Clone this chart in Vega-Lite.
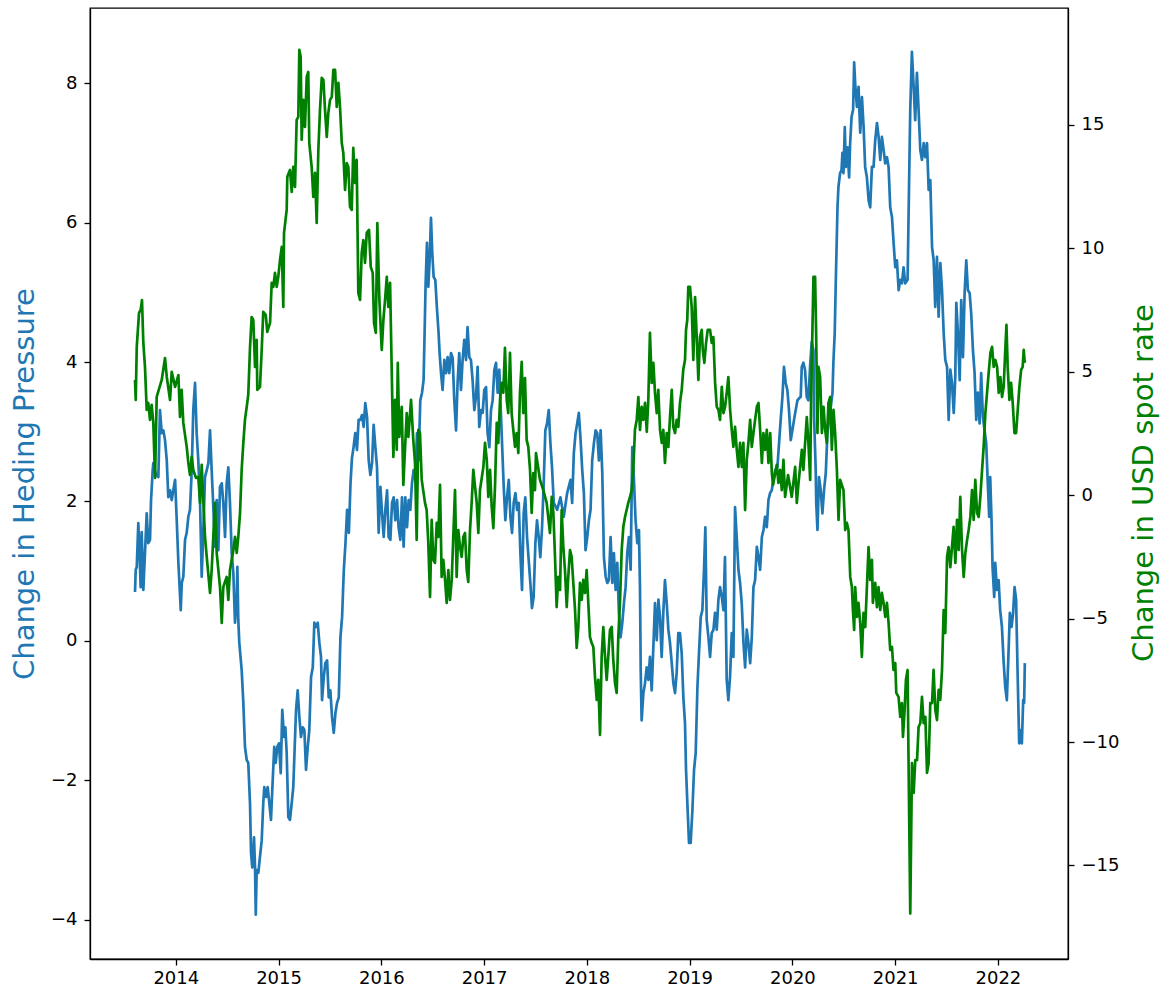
{
"$schema": "https://vega.github.io/schema/vega-lite/v6.json",
"width": 978,
"height": 951,
"autosize": {"type": "none"},
"padding": {"left": 90, "top": 8, "right": 102, "bottom": 35},
"background": "white",
"config": {
  "view": {"stroke": "black", "strokeWidth": 1.3},
  "axis": {"labelFont": "DejaVu Sans", "labelFontSize": 18, "labelColor": "black", "tickColor": "black", "tickSize": 6, "tickWidth": 1.3, "domainColor": "black", "domainWidth": 1.3, "grid": false, "titleFont": "DejaVu Sans", "titleFontSize": 29, "titleFontWeight": "normal", "labelPadding": 6}
},
"datasets": {
"hp": [
{"year":2013.603,"value":0.70},{"year":2013.610,"value":1.02},{"year":2013.620,"value":1.06},{"year":2013.635,"value":1.69},{"year":2013.645,"value":1.35},{"year":2013.658,"value":0.77},{"year":2013.668,"value":1.56},{"year":2013.684,"value":0.73},{"year":2013.700,"value":1.26},{"year":2013.717,"value":1.83},{"year":2013.732,"value":1.40},{"year":2013.749,"value":1.45},{"year":2013.759,"value":2.02},{"year":2013.775,"value":2.45},{"year":2013.781,"value":2.55},{"year":2013.807,"value":2.38},{"year":2013.830,"value":2.35},{"year":2013.846,"value":3.31},{"year":2013.863,"value":2.98},{"year":2013.879,"value":3.02},{"year":2013.895,"value":2.88},{"year":2013.912,"value":2.59},{"year":2013.927,"value":2.06},{"year":2013.944,"value":2.16},{"year":2013.960,"value":2.02},{"year":2013.993,"value":2.31},{"year":2014.009,"value":1.73},{"year":2014.025,"value":1.12},{"year":2014.035,"value":0.83},{"year":2014.048,"value":0.44},{"year":2014.058,"value":0.83},{"year":2014.073,"value":0.92},{"year":2014.090,"value":1.45},{"year":2014.106,"value":1.55},{"year":2014.122,"value":1.78},{"year":2014.138,"value":1.88},{"year":2014.155,"value":2.45},{"year":2014.170,"value":3.31},{"year":2014.187,"value":3.70},{"year":2014.203,"value":2.98},{"year":2014.219,"value":2.59},{"year":2014.236,"value":1.98},{"year":2014.252,"value":0.92},{"year":2014.268,"value":1.59},{"year":2014.284,"value":2.35},{"year":2014.301,"value":2.45},{"year":2014.317,"value":2.55},{"year":2014.333,"value":3.02},{"year":2014.349,"value":2.45},{"year":2014.365,"value":1.92},{"year":2014.381,"value":1.35},{"year":2014.398,"value":2.02},{"year":2014.414,"value":1.30},{"year":2014.430,"value":2.21},{"year":2014.447,"value":2.26},{"year":2014.462,"value":1.98},{"year":2014.479,"value":1.49},{"year":2014.495,"value":2.26},{"year":2014.511,"value":2.49},{"year":2014.527,"value":1.98},{"year":2014.544,"value":1.26},{"year":2014.560,"value":0.97},{"year":2014.576,"value":0.26},{"year":2014.593,"value":0.63},{"year":2014.599,"value":1.06},{"year":2014.608,"value":0.30},{"year":2014.618,"value":-0.03},{"year":2014.641,"value":-0.42},{"year":2014.657,"value":-0.89},{"year":2014.673,"value":-1.52},{"year":2014.690,"value":-1.71},{"year":2014.705,"value":-1.75},{"year":2014.722,"value":-2.33},{"year":2014.732,"value":-3.04},{"year":2014.744,"value":-3.25},{"year":2014.761,"value":-2.82},{"year":2014.771,"value":-3.25},{"year":2014.778,"value":-3.93},{"year":2014.787,"value":-3.29},{"year":2014.803,"value":-3.33},{"year":2014.819,"value":-3.10},{"year":2014.836,"value":-2.86},{"year":2014.851,"value":-2.33},{"year":2014.861,"value":-2.10},{"year":2014.878,"value":-2.24},{"year":2014.894,"value":-2.10},{"year":2014.910,"value":-2.33},{"year":2014.926,"value":-2.57},{"year":2014.943,"value":-2.00},{"year":2014.958,"value":-1.52},{"year":2014.972,"value":-1.75},{"year":2014.988,"value":-1.52},{"year":2015.004,"value":-1.47},{"year":2015.021,"value":-1.90},{"year":2015.036,"value":-0.99},{"year":2015.053,"value":-1.38},{"year":2015.066,"value":-1.24},{"year":2015.079,"value":-1.61},{"year":2015.095,"value":-2.53},{"year":2015.111,"value":-2.57},{"year":2015.128,"value":-2.33},{"year":2015.143,"value":-2.10},{"year":2015.157,"value":-1.52},{"year":2015.170,"value":-0.99},{"year":2015.186,"value":-0.71},{"year":2015.202,"value":-1.09},{"year":2015.218,"value":-1.38},{"year":2015.235,"value":-1.24},{"year":2015.251,"value":-1.28},{"year":2015.267,"value":-1.85},{"year":2015.284,"value":-1.52},{"year":2015.299,"value":-1.28},{"year":2015.316,"value":-0.52},{"year":2015.333,"value":-0.38},{"year":2015.348,"value":0.26},{"year":2015.365,"value":0.20},{"year":2015.381,"value":0.26},{"year":2015.397,"value":-0.03},{"year":2015.413,"value":-0.23},{"year":2015.423,"value":-0.85},{"year":2015.440,"value":-0.52},{"year":2015.455,"value":-0.32},{"year":2015.472,"value":-0.28},{"year":2015.488,"value":-0.81},{"year":2015.504,"value":-0.71},{"year":2015.520,"value":-1.09},{"year":2015.537,"value":-1.32},{"year":2015.553,"value":-1.04},{"year":2015.569,"value":-0.89},{"year":2015.586,"value":-0.81},{"year":2015.602,"value":0.05},{"year":2015.618,"value":0.34},{"year":2015.635,"value":1.02},{"year":2015.651,"value":1.40},{"year":2015.667,"value":1.88},{"year":2015.684,"value":1.55},{"year":2015.700,"value":2.26},{"year":2015.714,"value":2.62},{"year":2015.730,"value":2.78},{"year":2015.746,"value":2.98},{"year":2015.763,"value":2.74},{"year":2015.779,"value":3.17},{"year":2015.795,"value":3.17},{"year":2015.812,"value":3.24},{"year":2015.828,"value":3.07},{"year":2015.844,"value":3.41},{"year":2015.861,"value":3.21},{"year":2015.877,"value":2.59},{"year":2015.893,"value":2.38},{"year":2015.910,"value":2.55},{"year":2015.925,"value":3.10},{"year":2015.942,"value":2.78},{"year":2015.958,"value":2.49},{"year":2015.974,"value":1.55},{"year":2015.991,"value":2.21},{"year":2016.007,"value":1.83},{"year":2016.023,"value":1.49},{"year":2016.039,"value":1.88},{"year":2016.056,"value":2.16},{"year":2016.071,"value":1.49},{"year":2016.088,"value":1.45},{"year":2016.104,"value":1.98},{"year":2016.120,"value":2.06},{"year":2016.136,"value":1.73},{"year":2016.153,"value":2.02},{"year":2016.168,"value":1.63},{"year":2016.185,"value":1.45},{"year":2016.201,"value":2.06},{"year":2016.217,"value":1.35},{"year":2016.233,"value":2.06},{"year":2016.250,"value":1.63},{"year":2016.266,"value":2.02},{"year":2016.282,"value":1.88},{"year":2016.298,"value":2.26},{"year":2016.314,"value":2.45},{"year":2016.331,"value":2.31},{"year":2016.347,"value":2.98},{"year":2016.363,"value":2.59},{"year":2016.379,"value":3.45},{"year":2016.396,"value":3.56},{"year":2016.411,"value":3.74},{"year":2016.421,"value":4.42},{"year":2016.431,"value":5.13},{"year":2016.444,"value":5.71},{"year":2016.457,"value":5.08},{"year":2016.470,"value":5.46},{"year":2016.483,"value":6.07},{"year":2016.496,"value":5.56},{"year":2016.509,"value":5.22},{"year":2016.525,"value":5.18},{"year":2016.542,"value":4.75},{"year":2016.557,"value":4.42},{"year":2016.567,"value":4.13},{"year":2016.581,"value":3.84},{"year":2016.596,"value":3.60},{"year":2016.613,"value":4.03},{"year":2016.630,"value":3.84},{"year":2016.645,"value":4.07},{"year":2016.661,"value":3.84},{"year":2016.678,"value":4.13},{"year":2016.694,"value":4.06},{"year":2016.710,"value":3.45},{"year":2016.727,"value":3.02},{"year":2016.742,"value":3.70},{"year":2016.758,"value":4.13},{"year":2016.775,"value":3.60},{"year":2016.791,"value":4.03},{"year":2016.807,"value":4.32},{"year":2016.824,"value":4.03},{"year":2016.839,"value":4.50},{"year":2016.856,"value":4.07},{"year":2016.872,"value":4.03},{"year":2016.888,"value":3.74},{"year":2016.905,"value":3.31},{"year":2016.921,"value":3.50},{"year":2016.937,"value":3.93},{"year":2016.953,"value":3.07},{"year":2016.970,"value":3.31},{"year":2016.986,"value":3.27},{"year":2017.002,"value":3.60},{"year":2017.019,"value":3.64},{"year":2017.034,"value":2.98},{"year":2017.051,"value":2.78},{"year":2017.067,"value":3.31},{"year":2017.083,"value":3.45},{"year":2017.100,"value":3.89},{"year":2017.116,"value":3.99},{"year":2017.132,"value":3.56},{"year":2017.148,"value":3.89},{"year":2017.165,"value":3.21},{"year":2017.181,"value":2.59},{"year":2017.191,"value":2.21},{"year":2017.207,"value":1.73},{"year":2017.223,"value":2.06},{"year":2017.240,"value":2.31},{"year":2017.256,"value":1.78},{"year":2017.272,"value":1.55},{"year":2017.288,"value":1.98},{"year":2017.305,"value":2.12},{"year":2017.321,"value":1.88},{"year":2017.337,"value":1.98},{"year":2017.353,"value":1.26},{"year":2017.369,"value":0.73},{"year":2017.385,"value":1.83},{"year":2017.401,"value":2.06},{"year":2017.418,"value":1.49},{"year":2017.434,"value":1.16},{"year":2017.450,"value":0.83},{"year":2017.466,"value":0.47},{"year":2017.482,"value":0.63},{"year":2017.499,"value":1.40},{"year":2017.515,"value":1.73},{"year":2017.531,"value":1.49},{"year":2017.547,"value":1.20},{"year":2017.564,"value":1.63},{"year":2017.580,"value":2.26},{"year":2017.596,"value":3.02},{"year":2017.613,"value":3.12},{"year":2017.629,"value":3.31},{"year":2017.645,"value":2.84},{"year":2017.661,"value":2.49},{"year":2017.678,"value":1.98},{"year":2017.711,"value":1.88},{"year":2017.743,"value":2.06},{"year":2017.775,"value":1.78},{"year":2017.808,"value":2.12},{"year":2017.841,"value":2.31},{"year":2017.857,"value":1.98},{"year":2017.873,"value":2.69},{"year":2017.890,"value":2.98},{"year":2017.906,"value":3.12},{"year":2017.922,"value":3.27},{"year":2017.939,"value":2.88},{"year":2017.955,"value":2.45},{"year":2017.971,"value":2.12},{"year":2017.987,"value":1.30},{"year":2018.004,"value":1.49},{"year":2018.020,"value":1.73},{"year":2018.036,"value":1.88},{"year":2018.052,"value":2.59},{"year":2018.069,"value":2.84},{"year":2018.085,"value":3.02},{"year":2018.101,"value":2.98},{"year":2018.117,"value":2.59},{"year":2018.134,"value":3.02},{"year":2018.150,"value":2.41},{"year":2018.166,"value":1.20},{"year":2018.183,"value":0.92},{"year":2018.199,"value":0.83},{"year":2018.214,"value":0.87},{"year":2018.231,"value":1.49},{"year":2018.248,"value":0.83},{"year":2018.263,"value":1.26},{"year":2018.280,"value":0.73},{"year":2018.296,"value":1.12},{"year":2018.312,"value":0.40},{"year":2018.328,"value":0.05},{"year":2018.345,"value":0.26},{"year":2018.361,"value":0.54},{"year":2018.377,"value":0.77},{"year":2018.393,"value":1.26},{"year":2018.409,"value":1.49},{"year":2018.426,"value":1.02},{"year":2018.442,"value":2.78},{"year":2018.458,"value":2.31},{"year":2018.474,"value":1.73},{"year":2018.491,"value":1.40},{"year":2018.507,"value":1.59},{"year":2018.517,"value":0.77},{"year":2018.524,"value":-0.42},{"year":2018.533,"value":-1.14},{"year":2018.550,"value":-0.75},{"year":2018.566,"value":-0.61},{"year":2018.582,"value":-0.38},{"year":2018.599,"value":-0.56},{"year":2018.614,"value":-0.23},{"year":2018.631,"value":-0.71},{"year":2018.647,"value":-0.09},{"year":2018.663,"value":0.54},{"year":2018.680,"value":0.01},{"year":2018.696,"value":0.59},{"year":2018.712,"value":0.34},{"year":2018.728,"value":-0.23},{"year":2018.745,"value":0.44},{"year":2018.760,"value":0.87},{"year":2018.777,"value":0.54},{"year":2018.793,"value":0.16},{"year":2018.809,"value":-0.03},{"year":2018.826,"value":-0.32},{"year":2018.842,"value":-0.61},{"year":2018.858,"value":-0.75},{"year":2018.874,"value":-0.46},{"year":2018.890,"value":0.11},{"year":2018.906,"value":0.11},{"year":2018.923,"value":-0.18},{"year":2018.939,"value":-0.81},{"year":2018.955,"value":-1.18},{"year":2018.965,"value":-1.85},{"year":2018.978,"value":-2.33},{"year":2018.994,"value":-2.90},{"year":2019.010,"value":-2.90},{"year":2019.027,"value":-2.43},{"year":2019.043,"value":-1.85},{"year":2019.059,"value":-1.61},{"year":2019.076,"value":-0.66},{"year":2019.091,"value":-0.18},{"year":2019.108,"value":0.34},{"year":2019.124,"value":0.44},{"year":2019.140,"value":1.02},{"year":2019.153,"value":1.63},{"year":2019.166,"value":0.30},{"year":2019.183,"value":0.05},{"year":2019.199,"value":-0.23},{"year":2019.215,"value":0.11},{"year":2019.232,"value":0.16},{"year":2019.247,"value":0.40},{"year":2019.264,"value":0.16},{"year":2019.280,"value":0.59},{"year":2019.296,"value":0.77},{"year":2019.313,"value":0.63},{"year":2019.329,"value":0.44},{"year":2019.344,"value":1.20},{"year":2019.361,"value":-0.56},{"year":2019.377,"value":-0.85},{"year":2019.393,"value":-0.52},{"year":2019.410,"value":0.11},{"year":2019.426,"value":-0.23},{"year":2019.442,"value":1.92},{"year":2019.458,"value":1.49},{"year":2019.475,"value":1.02},{"year":2019.491,"value":0.83},{"year":2019.507,"value":0.54},{"year":2019.524,"value":-0.03},{"year":2019.540,"value":-0.38},{"year":2019.556,"value":0.16},{"year":2019.572,"value":-0.03},{"year":2019.589,"value":-0.32},{"year":2019.605,"value":0.05},{"year":2019.621,"value":0.77},{"year":2019.637,"value":0.87},{"year":2019.654,"value":1.35},{"year":2019.670,"value":1.20},{"year":2019.686,"value":1.02},{"year":2019.703,"value":1.49},{"year":2019.719,"value":1.59},{"year":2019.734,"value":1.78},{"year":2019.751,"value":1.63},{"year":2019.767,"value":2.02},{"year":2019.783,"value":2.12},{"year":2019.799,"value":2.16},{"year":2019.815,"value":2.31},{"year":2019.833,"value":2.45},{"year":2019.854,"value":2.49},{"year":2019.886,"value":3.17},{"year":2019.903,"value":3.50},{"year":2019.918,"value":3.93},{"year":2019.935,"value":3.70},{"year":2019.951,"value":3.60},{"year":2019.967,"value":3.31},{"year":2019.984,"value":2.88},{"year":2020.000,"value":3.02},{"year":2020.016,"value":3.17},{"year":2020.032,"value":3.31},{"year":2020.049,"value":3.45},{"year":2020.065,"value":3.48},{"year":2020.081,"value":3.50},{"year":2020.091,"value":3.93},{"year":2020.107,"value":3.99},{"year":2020.123,"value":3.89},{"year":2020.140,"value":3.50},{"year":2020.156,"value":3.45},{"year":2020.172,"value":3.93},{"year":2020.188,"value":4.29},{"year":2020.205,"value":4.17},{"year":2020.211,"value":3.21},{"year":2020.227,"value":2.45},{"year":2020.232,"value":1.98},{"year":2020.244,"value":1.59},{"year":2020.259,"value":2.35},{"year":2020.276,"value":2.16},{"year":2020.292,"value":1.83},{"year":2020.308,"value":2.16},{"year":2020.325,"value":2.41},{"year":2020.341,"value":2.98},{"year":2020.357,"value":3.17},{"year":2020.373,"value":3.35},{"year":2020.390,"value":3.55},{"year":2020.399,"value":3.99},{"year":2020.412,"value":4.42},{"year":2020.422,"value":5.13},{"year":2020.439,"value":6.22},{"year":2020.448,"value":6.51},{"year":2020.464,"value":6.71},{"year":2020.478,"value":6.75},{"year":2020.487,"value":7.00},{"year":2020.497,"value":6.71},{"year":2020.510,"value":7.37},{"year":2020.520,"value":6.80},{"year":2020.536,"value":7.08},{"year":2020.552,"value":6.65},{"year":2020.562,"value":7.14},{"year":2020.576,"value":7.52},{"year":2020.591,"value":7.62},{"year":2020.601,"value":8.30},{"year":2020.611,"value":8.00},{"year":2020.628,"value":7.66},{"year":2020.644,"value":7.95},{"year":2020.660,"value":7.29},{"year":2020.677,"value":7.80},{"year":2020.693,"value":7.37},{"year":2020.708,"value":6.80},{"year":2020.725,"value":6.65},{"year":2020.742,"value":6.32},{"year":2020.757,"value":6.22},{"year":2020.774,"value":6.80},{"year":2020.790,"value":6.80},{"year":2020.806,"value":7.18},{"year":2020.823,"value":7.43},{"year":2020.839,"value":7.23},{"year":2020.855,"value":6.90},{"year":2020.871,"value":7.23},{"year":2020.888,"value":7.04},{"year":2020.903,"value":6.85},{"year":2020.920,"value":6.94},{"year":2020.936,"value":6.80},{"year":2020.952,"value":6.22},{"year":2020.969,"value":6.08},{"year":2020.985,"value":5.71},{"year":2021.001,"value":5.36},{"year":2021.017,"value":5.46},{"year":2021.034,"value":5.03},{"year":2021.049,"value":5.18},{"year":2021.066,"value":5.13},{"year":2021.082,"value":5.36},{"year":2021.098,"value":5.13},{"year":2021.121,"value":5.18},{"year":2021.137,"value":6.71},{"year":2021.147,"value":7.62},{"year":2021.163,"value":8.45},{"year":2021.180,"value":7.95},{"year":2021.195,"value":7.47},{"year":2021.212,"value":8.15},{"year":2021.228,"value":7.62},{"year":2021.245,"value":7.04},{"year":2021.261,"value":6.90},{"year":2021.278,"value":7.14},{"year":2021.293,"value":6.94},{"year":2021.310,"value":7.14},{"year":2021.326,"value":6.47},{"year":2021.342,"value":6.61},{"year":2021.359,"value":5.65},{"year":2021.375,"value":5.46},{"year":2021.390,"value":4.79},{"year":2021.407,"value":5.51},{"year":2021.423,"value":4.65},{"year":2021.440,"value":5.42},{"year":2021.456,"value":5.03},{"year":2021.472,"value":4.42},{"year":2021.488,"value":4.03},{"year":2021.505,"value":3.93},{"year":2021.521,"value":3.17},{"year":2021.537,"value":3.89},{"year":2021.553,"value":3.70},{"year":2021.570,"value":3.27},{"year":2021.585,"value":3.78},{"year":2021.595,"value":4.85},{"year":2021.611,"value":4.42},{"year":2021.628,"value":3.74},{"year":2021.643,"value":4.89},{"year":2021.660,"value":4.07},{"year":2021.676,"value":4.99},{"year":2021.692,"value":5.46},{"year":2021.708,"value":5.03},{"year":2021.725,"value":4.99},{"year":2021.740,"value":4.70},{"year":2021.757,"value":4.17},{"year":2021.773,"value":3.84},{"year":2021.789,"value":3.17},{"year":2021.805,"value":3.56},{"year":2021.822,"value":3.12},{"year":2021.837,"value":3.84},{"year":2021.854,"value":3.21},{"year":2021.870,"value":3.02},{"year":2021.886,"value":2.84},{"year":2021.899,"value":2.35},{"year":2021.915,"value":1.78},{"year":2021.925,"value":2.35},{"year":2021.938,"value":1.73},{"year":2021.948,"value":1.06},{"year":2021.964,"value":0.63},{"year":2021.974,"value":1.12},{"year":2021.990,"value":0.73},{"year":2022.007,"value":0.87},{"year":2022.022,"value":0.44},{"year":2022.039,"value":0.20},{"year":2022.055,"value":-0.28},{"year":2022.071,"value":-0.66},{"year":2022.087,"value":-0.85},{"year":2022.103,"value":-0.18},{"year":2022.116,"value":0.40},{"year":2022.133,"value":0.20},{"year":2022.148,"value":0.40},{"year":2022.162,"value":0.77},{"year":2022.177,"value":0.59},{"year":2022.191,"value":-0.42},{"year":2022.207,"value":-1.47},{"year":2022.223,"value":-1.28},{"year":2022.233,"value":-1.47},{"year":2022.246,"value":-0.85},{"year":2022.255,"value":-0.89},{"year":2022.262,"value":-0.32}
],
"usd": [
{"year":2013.603,"value":4.67},{"year":2013.610,"value":3.86},{"year":2013.620,"value":6.01},{"year":2013.642,"value":7.39},{"year":2013.658,"value":7.51},{"year":2013.671,"value":7.91},{"year":2013.684,"value":6.17},{"year":2013.700,"value":5.20},{"year":2013.717,"value":3.46},{"year":2013.732,"value":3.74},{"year":2013.749,"value":3.05},{"year":2013.765,"value":3.66},{"year":2013.781,"value":2.93},{"year":2013.798,"value":0.70},{"year":2013.814,"value":3.98},{"year":2013.863,"value":4.67},{"year":2013.895,"value":5.56},{"year":2013.912,"value":4.79},{"year":2013.944,"value":3.86},{"year":2013.960,"value":5.00},{"year":2013.993,"value":4.39},{"year":2014.025,"value":4.87},{"year":2014.041,"value":3.17},{"year":2014.057,"value":4.27},{"year":2014.073,"value":2.93},{"year":2014.106,"value":1.96},{"year":2014.122,"value":1.31},{"year":2014.138,"value":0.82},{"year":2014.155,"value":1.55},{"year":2014.170,"value":1.03},{"year":2014.196,"value":0.70},{"year":2014.219,"value":0.74},{"year":2014.236,"value":-0.31},{"year":2014.252,"value":1.23},{"year":2014.284,"value":-1.69},{"year":2014.301,"value":-2.50},{"year":2014.333,"value":-3.96},{"year":2014.349,"value":-3.03},{"year":2014.365,"value":-1.69},{"year":2014.381,"value":-0.31},{"year":2014.398,"value":-2.34},{"year":2014.430,"value":-3.72},{"year":2014.447,"value":-5.17},{"year":2014.462,"value":-3.72},{"year":2014.495,"value":-3.31},{"year":2014.511,"value":-4.24},{"year":2014.527,"value":-3.03},{"year":2014.560,"value":-2.22},{"year":2014.576,"value":-1.69},{"year":2014.593,"value":-2.34},{"year":2014.608,"value":-1.69},{"year":2014.625,"value":-0.72},{"year":2014.641,"value":1.03},{"year":2014.657,"value":2.12},{"year":2014.673,"value":3.05},{"year":2014.690,"value":3.58},{"year":2014.705,"value":4.06},{"year":2014.722,"value":5.97},{"year":2014.738,"value":7.22},{"year":2014.754,"value":7.10},{"year":2014.771,"value":5.20},{"year":2014.787,"value":6.29},{"year":2014.793,"value":4.27},{"year":2014.819,"value":4.39},{"year":2014.836,"value":5.89},{"year":2014.851,"value":7.43},{"year":2014.875,"value":7.31},{"year":2014.890,"value":6.62},{"year":2014.917,"value":6.98},{"year":2014.933,"value":8.60},{"year":2014.949,"value":8.44},{"year":2014.965,"value":9.01},{"year":2014.982,"value":8.44},{"year":2014.997,"value":8.85},{"year":2015.014,"value":9.53},{"year":2015.031,"value":10.06},{"year":2015.046,"value":7.63},{"year":2015.053,"value":10.63},{"year":2015.079,"value":11.56},{"year":2015.085,"value":12.90},{"year":2015.111,"value":13.18},{"year":2015.128,"value":12.29},{"year":2015.143,"value":13.30},{"year":2015.160,"value":12.49},{"year":2015.176,"value":15.21},{"year":2015.192,"value":15.33},{"year":2015.202,"value":18.04},{"year":2015.215,"value":17.76},{"year":2015.225,"value":14.40},{"year":2015.241,"value":16.02},{"year":2015.257,"value":14.92},{"year":2015.274,"value":16.95},{"year":2015.289,"value":17.15},{"year":2015.299,"value":14.27},{"year":2015.322,"value":13.30},{"year":2015.338,"value":12.09},{"year":2015.355,"value":13.06},{"year":2015.371,"value":11.03},{"year":2015.387,"value":13.99},{"year":2015.403,"value":15.61},{"year":2015.420,"value":16.91},{"year":2015.436,"value":16.83},{"year":2015.452,"value":15.61},{"year":2015.469,"value":14.52},{"year":2015.484,"value":15.49},{"year":2015.501,"value":16.02},{"year":2015.518,"value":16.14},{"year":2015.533,"value":17.23},{"year":2015.550,"value":17.23},{"year":2015.566,"value":15.73},{"year":2015.582,"value":16.71},{"year":2015.598,"value":15.73},{"year":2015.615,"value":14.27},{"year":2015.630,"value":13.87},{"year":2015.647,"value":12.37},{"year":2015.663,"value":13.46},{"year":2015.679,"value":13.30},{"year":2015.695,"value":11.68},{"year":2015.712,"value":11.56},{"year":2015.727,"value":14.07},{"year":2015.744,"value":12.65},{"year":2015.760,"value":13.59},{"year":2015.776,"value":8.20},{"year":2015.793,"value":7.91},{"year":2015.809,"value":9.82},{"year":2015.825,"value":10.34},{"year":2015.841,"value":9.41},{"year":2015.858,"value":10.63},{"year":2015.880,"value":10.75},{"year":2015.897,"value":9.25},{"year":2015.916,"value":9.01},{"year":2015.929,"value":6.98},{"year":2015.946,"value":6.58},{"year":2015.961,"value":11.03},{"year":2015.981,"value":7.91},{"year":2016.004,"value":5.89},{"year":2016.020,"value":7.10},{"year":2016.036,"value":7.91},{"year":2016.053,"value":8.85},{"year":2016.068,"value":7.63},{"year":2016.085,"value":8.60},{"year":2016.101,"value":5.08},{"year":2016.117,"value":1.55},{"year":2016.133,"value":3.86},{"year":2016.150,"value":1.84},{"year":2016.160,"value":5.36},{"year":2016.175,"value":2.36},{"year":2016.199,"value":3.58},{"year":2016.214,"value":0.42},{"year":2016.247,"value":3.33},{"year":2016.263,"value":2.36},{"year":2016.289,"value":3.86},{"year":2016.311,"value":2.24},{"year":2016.328,"value":1.31},{"year":2016.344,"value":-1.81},{"year":2016.360,"value":2.65},{"year":2016.376,"value":2.52},{"year":2016.393,"value":0.62},{"year":2016.425,"value":-0.31},{"year":2016.441,"value":-0.60},{"year":2016.457,"value":-1.93},{"year":2016.474,"value":-4.12},{"year":2016.490,"value":-1.00},{"year":2016.506,"value":-2.62},{"year":2016.522,"value":-2.74},{"year":2016.539,"value":-1.12},{"year":2016.554,"value":-1.69},{"year":2016.571,"value":0.42},{"year":2016.587,"value":-3.31},{"year":2016.603,"value":-2.62},{"year":2016.620,"value":-3.43},{"year":2016.636,"value":-4.36},{"year":2016.652,"value":-3.03},{"year":2016.668,"value":-4.24},{"year":2016.685,"value":-3.43},{"year":2016.700,"value":-1.69},{"year":2016.717,"value":0.21},{"year":2016.733,"value":-3.31},{"year":2016.749,"value":-1.41},{"year":2016.766,"value":-2.10},{"year":2016.782,"value":-2.50},{"year":2016.798,"value":-1.69},{"year":2016.814,"value":-1.53},{"year":2016.831,"value":-3.03},{"year":2016.846,"value":-3.51},{"year":2016.863,"value":-1.41},{"year":2016.879,"value":-0.31},{"year":2016.895,"value":1.03},{"year":2016.928,"value":-0.31},{"year":2016.944,"value":-1.53},{"year":2016.960,"value":0.21},{"year":2016.993,"value":1.15},{"year":2017.009,"value":2.12},{"year":2017.026,"value":1.43},{"year":2017.041,"value":-0.07},{"year":2017.058,"value":1.03},{"year":2017.074,"value":-0.47},{"year":2017.090,"value":-1.33},{"year":2017.106,"value":0.34},{"year":2017.123,"value":2.93},{"year":2017.138,"value":2.12},{"year":2017.155,"value":3.86},{"year":2017.171,"value":4.55},{"year":2017.187,"value":4.15},{"year":2017.203,"value":5.97},{"year":2017.220,"value":3.86},{"year":2017.235,"value":3.33},{"year":2017.252,"value":5.77},{"year":2017.268,"value":3.33},{"year":2017.284,"value":2.65},{"year":2017.301,"value":1.96},{"year":2017.317,"value":2.52},{"year":2017.333,"value":1.71},{"year":2017.349,"value":4.15},{"year":2017.366,"value":5.40},{"year":2017.381,"value":3.33},{"year":2017.398,"value":4.75},{"year":2017.414,"value":2.24},{"year":2017.430,"value":1.96},{"year":2017.447,"value":1.03},{"year":2017.463,"value":-0.72},{"year":2017.479,"value":0.90},{"year":2017.495,"value":0.21},{"year":2017.505,"value":1.71},{"year":2017.544,"value":0.62},{"year":2017.576,"value":0.21},{"year":2017.609,"value":-0.31},{"year":2017.641,"value":-1.53},{"year":2017.658,"value":-0.07},{"year":2017.674,"value":-0.72},{"year":2017.690,"value":-2.50},{"year":2017.706,"value":-4.53},{"year":2017.722,"value":-3.31},{"year":2017.739,"value":-3.84},{"year":2017.755,"value":-0.60},{"year":2017.771,"value":-2.10},{"year":2017.787,"value":-3.03},{"year":2017.804,"value":-4.53},{"year":2017.819,"value":-3.31},{"year":2017.836,"value":-2.22},{"year":2017.852,"value":-2.50},{"year":2017.868,"value":-3.55},{"year":2017.885,"value":-4.65},{"year":2017.901,"value":-6.19},{"year":2017.917,"value":-5.34},{"year":2017.933,"value":-3.55},{"year":2017.950,"value":-4.24},{"year":2017.965,"value":-3.43},{"year":2017.982,"value":-3.96},{"year":2017.998,"value":-3.03},{"year":2018.014,"value":-4.36},{"year":2018.030,"value":-5.74},{"year":2018.047,"value":-5.99},{"year":2018.063,"value":-6.15},{"year":2018.079,"value":-7.36},{"year":2018.096,"value":-8.29},{"year":2018.111,"value":-7.48},{"year":2018.128,"value":-9.71},{"year":2018.144,"value":-6.55},{"year":2018.160,"value":-5.34},{"year":2018.177,"value":-6.55},{"year":2018.193,"value":-7.48},{"year":2018.208,"value":-6.55},{"year":2018.225,"value":-5.46},{"year":2018.242,"value":-5.34},{"year":2018.257,"value":-6.67},{"year":2018.274,"value":-7.61},{"year":2018.290,"value":-8.01},{"year":2018.306,"value":-5.74},{"year":2018.322,"value":-4.36},{"year":2018.339,"value":-2.22},{"year":2018.355,"value":-1.28},{"year":2018.371,"value":-0.88},{"year":2018.387,"value":-0.60},{"year":2018.403,"value":-0.31},{"year":2018.420,"value":-0.07},{"year":2018.436,"value":0.21},{"year":2018.452,"value":1.03},{"year":2018.468,"value":2.65},{"year":2018.485,"value":3.05},{"year":2018.501,"value":3.98},{"year":2018.517,"value":2.65},{"year":2018.534,"value":3.58},{"year":2018.549,"value":3.05},{"year":2018.566,"value":3.74},{"year":2018.583,"value":2.57},{"year":2018.598,"value":3.86},{"year":2018.614,"value":6.58},{"year":2018.631,"value":4.55},{"year":2018.647,"value":5.36},{"year":2018.663,"value":4.15},{"year":2018.680,"value":3.33},{"year":2018.695,"value":4.27},{"year":2018.712,"value":2.65},{"year":2018.729,"value":2.12},{"year":2018.744,"value":2.65},{"year":2018.760,"value":1.31},{"year":2018.777,"value":2.52},{"year":2018.793,"value":1.96},{"year":2018.809,"value":3.17},{"year":2018.826,"value":4.27},{"year":2018.841,"value":2.77},{"year":2018.858,"value":2.52},{"year":2018.874,"value":3.05},{"year":2018.890,"value":2.77},{"year":2018.906,"value":3.74},{"year":2018.923,"value":4.27},{"year":2018.938,"value":5.08},{"year":2018.955,"value":5.48},{"year":2018.965,"value":6.70},{"year":2018.977,"value":7.10},{"year":2018.987,"value":8.44},{"year":2019.004,"value":8.44},{"year":2019.020,"value":7.63},{"year":2019.036,"value":5.48},{"year":2019.053,"value":8.03},{"year":2019.069,"value":6.41},{"year":2019.085,"value":4.67},{"year":2019.101,"value":6.41},{"year":2019.118,"value":6.70},{"year":2019.128,"value":5.89},{"year":2019.143,"value":5.36},{"year":2019.160,"value":6.17},{"year":2019.176,"value":6.70},{"year":2019.199,"value":6.70},{"year":2019.215,"value":6.17},{"year":2019.231,"value":6.41},{"year":2019.248,"value":4.55},{"year":2019.264,"value":3.58},{"year":2019.280,"value":3.46},{"year":2019.296,"value":3.05},{"year":2019.313,"value":4.39},{"year":2019.329,"value":3.33},{"year":2019.345,"value":3.58},{"year":2019.361,"value":4.15},{"year":2019.377,"value":4.79},{"year":2019.394,"value":3.46},{"year":2019.410,"value":2.65},{"year":2019.426,"value":1.96},{"year":2019.442,"value":2.77},{"year":2019.459,"value":1.84},{"year":2019.475,"value":1.15},{"year":2019.491,"value":2.12},{"year":2019.508,"value":1.15},{"year":2019.523,"value":2.12},{"year":2019.540,"value":-0.60},{"year":2019.556,"value":1.43},{"year":2019.572,"value":2.12},{"year":2019.589,"value":3.05},{"year":2019.605,"value":1.96},{"year":2019.621,"value":2.52},{"year":2019.637,"value":3.05},{"year":2019.654,"value":3.58},{"year":2019.670,"value":3.74},{"year":2019.686,"value":2.65},{"year":2019.703,"value":1.31},{"year":2019.718,"value":2.52},{"year":2019.735,"value":1.84},{"year":2019.751,"value":2.65},{"year":2019.767,"value":1.31},{"year":2019.784,"value":2.52},{"year":2019.800,"value":0.90},{"year":2019.812,"value":0.42},{"year":2019.848,"value":1.23},{"year":2019.864,"value":0.50},{"year":2019.881,"value":1.03},{"year":2019.897,"value":0.21},{"year":2019.913,"value":1.43},{"year":2019.929,"value":-0.07},{"year":2019.958,"value":0.82},{"year":2019.994,"value":-0.07},{"year":2020.027,"value":1.15},{"year":2020.043,"value":-0.31},{"year":2020.058,"value":0.42},{"year":2020.092,"value":1.84},{"year":2020.107,"value":1.03},{"year":2020.140,"value":3.17},{"year":2020.156,"value":2.12},{"year":2020.173,"value":0.62},{"year":2020.182,"value":3.86},{"year":2020.205,"value":8.85},{"year":2020.221,"value":8.85},{"year":2020.231,"value":6.58},{"year":2020.244,"value":2.52},{"year":2020.254,"value":5.20},{"year":2020.270,"value":4.79},{"year":2020.287,"value":2.52},{"year":2020.303,"value":3.58},{"year":2020.319,"value":2.65},{"year":2020.335,"value":2.12},{"year":2020.351,"value":3.74},{"year":2020.368,"value":3.98},{"year":2020.384,"value":1.84},{"year":2020.400,"value":3.46},{"year":2020.416,"value":2.52},{"year":2020.433,"value":1.03},{"year":2020.449,"value":-1.00},{"year":2020.465,"value":0.62},{"year":2020.497,"value":0.21},{"year":2020.514,"value":-1.41},{"year":2020.530,"value":-1.12},{"year":2020.546,"value":-1.41},{"year":2020.563,"value":-3.31},{"year":2020.579,"value":-3.72},{"year":2020.589,"value":-4.65},{"year":2020.601,"value":-5.46},{"year":2020.611,"value":-3.72},{"year":2020.628,"value":-4.93},{"year":2020.643,"value":-4.36},{"year":2020.660,"value":-5.17},{"year":2020.676,"value":-6.55},{"year":2020.692,"value":-4.77},{"year":2020.709,"value":-5.34},{"year":2020.725,"value":-3.72},{"year":2020.741,"value":-2.10},{"year":2020.757,"value":-3.43},{"year":2020.774,"value":-2.62},{"year":2020.783,"value":-4.36},{"year":2020.806,"value":-3.55},{"year":2020.823,"value":-4.53},{"year":2020.838,"value":-3.72},{"year":2020.855,"value":-4.65},{"year":2020.871,"value":-3.96},{"year":2020.887,"value":-4.36},{"year":2020.904,"value":-4.93},{"year":2020.920,"value":-4.36},{"year":2020.936,"value":-5.17},{"year":2020.952,"value":-6.27},{"year":2020.969,"value":-6.15},{"year":2020.984,"value":-7.08},{"year":2021.001,"value":-6.80},{"year":2021.011,"value":-8.01},{"year":2021.033,"value":-8.17},{"year":2021.050,"value":-8.98},{"year":2021.066,"value":-8.42},{"year":2021.076,"value":-9.79},{"year":2021.092,"value":-8.70},{"year":2021.105,"value":-7.48},{"year":2021.121,"value":-7.08},{"year":2021.131,"value":-11.01},{"year":2021.147,"value":-16.95},{"year":2021.164,"value":-10.85},{"year":2021.180,"value":-12.06},{"year":2021.196,"value":-10.73},{"year":2021.213,"value":-10.73},{"year":2021.228,"value":-9.39},{"year":2021.245,"value":-9.23},{"year":2021.261,"value":-8.17},{"year":2021.277,"value":-9.23},{"year":2021.294,"value":-8.98},{"year":2021.310,"value":-11.25},{"year":2021.326,"value":-10.85},{"year":2021.342,"value":-8.42},{"year":2021.359,"value":-8.42},{"year":2021.374,"value":-7.08},{"year":2021.391,"value":-8.70},{"year":2021.407,"value":-9.11},{"year":2021.423,"value":-7.89},{"year":2021.439,"value":-8.29},{"year":2021.456,"value":-7.08},{"year":2021.472,"value":-4.65},{"year":2021.488,"value":-5.58},{"year":2021.505,"value":-2.50},{"year":2021.520,"value":-2.10},{"year":2021.537,"value":-2.91},{"year":2021.553,"value":-2.10},{"year":2021.569,"value":-1.28},{"year":2021.586,"value":-2.74},{"year":2021.602,"value":-1.00},{"year":2021.618,"value":-2.22},{"year":2021.634,"value":-0.07},{"year":2021.651,"value":-2.22},{"year":2021.667,"value":-3.31},{"year":2021.683,"value":-2.34},{"year":2021.700,"value":-1.81},{"year":2021.715,"value":-1.41},{"year":2021.732,"value":-0.88},{"year":2021.748,"value":0.21},{"year":2021.764,"value":-1.00},{"year":2021.780,"value":0.62},{"year":2021.797,"value":-0.72},{"year":2021.813,"value":-0.88},{"year":2021.829,"value":-0.07},{"year":2021.846,"value":1.03},{"year":2021.861,"value":1.96},{"year":2021.878,"value":3.33},{"year":2021.894,"value":4.15},{"year":2021.910,"value":4.96},{"year":2021.927,"value":5.77},{"year":2021.943,"value":6.01},{"year":2021.959,"value":5.20},{"year":2021.975,"value":5.48},{"year":2021.992,"value":5.20},{"year":2022.008,"value":4.15},{"year":2022.024,"value":4.79},{"year":2022.040,"value":3.98},{"year":2022.056,"value":4.39},{"year":2022.073,"value":6.01},{"year":2022.083,"value":6.90},{"year":2022.095,"value":5.20},{"year":2022.112,"value":3.86},{"year":2022.128,"value":4.55},{"year":2022.144,"value":3.74},{"year":2022.161,"value":2.52},{"year":2022.177,"value":2.52},{"year":2022.193,"value":3.46},{"year":2022.209,"value":4.39},{"year":2022.226,"value":5.08},{"year":2022.241,"value":5.20},{"year":2022.251,"value":5.89},{"year":2022.261,"value":5.36}
]
},
"layer": [
  {
    "data": {"name": "hp"},
    "mark": {"type": "line", "color": "#1f77b4", "strokeWidth": 2.7, "strokeJoin": "round", "clip": true},
    "encoding": {
      "x": {"field": "year", "type": "quantitative", "scale": {"domain": [2013.165, 2022.682], "nice": false, "zero": false}, "axis": {"values": [2014, 2015, 2016, 2017, 2018, 2019, 2020, 2021, 2022], "format": "d", "title": null, "labelPadding": 4}},
      "y": {"field": "value", "type": "quantitative", "scale": {"domain": [-4.565, 9.08], "nice": false, "zero": false}, "axis": {"orient": "left", "values": [-4, -2, 0, 2, 4, 6, 8], "format": "d", "title": "Change in Heding Pressure", "titleColor": "#1f77b4", "titleX": -57, "titleY": 475.5, "titleAngle": 270, "titleAlign": "center", "titleBaseline": "alphabetic", "labelPadding": 7}}
    }
  },
  {
    "data": {"name": "usd"},
    "mark": {"type": "line", "color": "#008000", "strokeWidth": 2.7, "strokeJoin": "round", "clip": true},
    "encoding": {
      "x": {"field": "year", "type": "quantitative", "scale": {"domain": [2013.165, 2022.682], "nice": false, "zero": false}, "axis": {"values": [2014, 2015, 2016, 2017, 2018, 2019, 2020, 2021, 2022], "format": "d", "title": null, "labelPadding": 4}},
      "y": {"field": "value", "type": "quantitative", "scale": {"domain": [-18.79, 19.74], "nice": false, "zero": false}, "axis": {"orient": "right", "values": [-15, -10, -5, 0, 5, 10, 15], "format": "d", "title": "Change in USD spot rate", "titleColor": "#008000", "titleX": 84, "titleY": 474.5, "titleAngle": 270, "titleAlign": "center", "titleBaseline": "alphabetic", "labelPadding": 7}}
    }
  }
],
"resolve": {"scale": {"y": "independent"}}
}
